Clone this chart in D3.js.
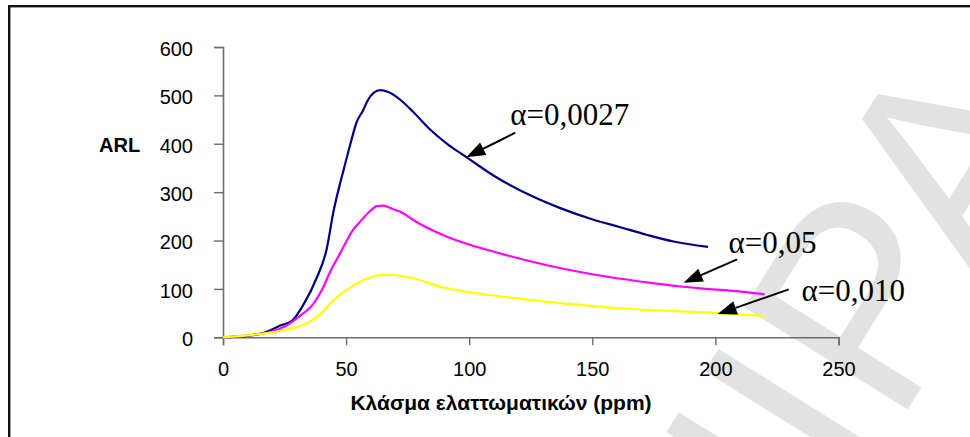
<!DOCTYPE html>
<html>
    <head>
        <meta charset="utf-8">
        <script src="https://d3js.org/d3.v7.min.js"></script>
        <style>
            body { margin: 0; background: #fff; }
            svg { display: block; }
        </style>
    </head>
    <body>
        <div id="chart"></div>
        <script>
            // ARL ανά κλάσμα ελαττωματικών, τιμές διαβασμένες από το γράφημα
            var a0027 = [[0,0],[10,3],[15,7],[19,14],[23,24],[28,34],[32.6,67],[38,122],[42,180],[45,263],[47.3,313],[49,346],
                         [51.6,397],[54.3,445],[57,470],[58.7,489],[61.4,506],[63.8,511],[67.2,507],[72,491],[77.4,465],[84,430],
                         [91,400],[99,372],[110,334],[125,293],[137,267],[150.5,243],[161,228],[172,212],[183,198],[197,187]];
            var a005 = [[0,0],[12,5],[20,12],[26,25],[31,43],[36.7,69],[40,96],[43.5,135],[47.6,174],[50,197],[52.3,218],
                        [55.7,239],[59.8,261],[62.5,271],[65,272],[69,265],[73,257],[77.4,242],[91,208],[103,187],[118,166],
                        [131.6,149],[145,135],[160,122],[173,113],[186,105],[194,101],[202,98],[207,96],[220,89]];
            var a0010 = [[0,0],[12,5],[22,12],[30,21],[35.4,32],[40,50],[44.8,76],[50.3,98],[55.7,115],[60.4,125],[65,129],
                         [69,129],[72,127],[77.4,122],[88,105],[104.5,90],[125,77],[145,67],[161,60],[179,55],[194,52],[201,50],[220,44]];

            var seriesColors = ["#000080", "#ff00ff", "#ffff00"];
            var xTicks = [0, 50, 100, 150, 200, 250];
            var yTicks = [0, 100, 200, 300, 400, 500, 600];

            // ετικέτες με βέλη: θέση κειμένου, ουρά και μύτη βέλους (σε μονάδες δεδομένων)
            var labels = ["α=0,0027", "α=0,05", "α=0,010"];
            var labelPos = [[116.7, 438], [205.3, 174], [235, 75]];
            var arrowTail = [[118.7, 423], [208.8, 161], [229.8, 99]];
            var arrowTip = [[98.8, 372], [187.1, 113], [200.9, 48]];

            var width = 970, height = 437;

            var svg = d3.select("#chart").append("svg")
                .attr("width", width)
                .attr("height", height);

            // υδατογράφημα
            svg.append("text")
                .attr("transform", "translate(640,838) rotate(-58)")
                .attr("font-family", "Liberation Sans, Arial, sans-serif")
                .attr("font-size", 280)
                .attr("fill", "#e2e2e2")
                .text("UNIPA");

            // πλαίσιο γραφήματος
            svg.append("rect")
                .attr("x", 9.2).attr("y", 6.2)
                .attr("width", 1000).attr("height", 500)
                .attr("fill", "none")
                .attr("stroke", "#111")
                .attr("stroke-width", 2.4);

            var x = d3.scaleLinear().domain([0, 250]).range([223, 838.5]);
            var y = d3.scaleLinear().domain([0, 600]).range([337.3, 47]);

            var xAxis = svg.append("g")
                .attr("transform", "translate(0," + y(0) + ")")
                .call(d3.axisBottom(x).tickValues(xTicks).tickSize(8).tickPadding(17).tickFormat(d3.format("d")));
            var yAxis = svg.append("g")
                .attr("transform", "translate(" + x(0) + ",0)")
                .call(d3.axisLeft(y).tickValues(yTicks).tickSize(9).tickPadding(21).tickFormat(d3.format("d")));

            svg.selectAll(".domain").attr("stroke", "#6e6e6e").attr("stroke-width", 1.6);
            svg.selectAll(".tick line").attr("stroke", "#6e6e6e").attr("stroke-width", 1.4);
            svg.selectAll(".tick text")
                .attr("font-family", "Liberation Sans, Arial, sans-serif")
                .attr("font-size", 20)
                .attr("fill", "#000");
            yAxis.selectAll(".tick text").attr("dy", "0.42em");

            // τίτλοι αξόνων
            svg.append("text")
                .attr("x", 501).attr("y", 410)
                .attr("text-anchor", "middle")
                .attr("font-family", "Liberation Sans, Arial, sans-serif")
                .attr("font-size", 21)
                .attr("font-weight", "bold")
                .text("Κλάσμα ελαττωματικών (ppm)");
            svg.append("text")
                .attr("x", 99).attr("y", 152)
                .attr("font-family", "Liberation Sans, Arial, sans-serif")
                .attr("font-size", 20)
                .attr("font-weight", "bold")
                .text("ARL");

            var line = d3.line()
                .x(function(d) { return x(d[0]); })
                .y(function(d) { return y(d[1]); })
                .curve(d3.curveMonotoneX);

            [a0027, a005, a0010].forEach(function(s, i) {
                svg.append("path")
                    .datum(s)
                    .attr("fill", "none")
                    .attr("stroke", seriesColors[i])
                    .attr("stroke-width", 2.2)
                    .attr("d", line);
            });

            // βέλη και ετικέτες
            labels.forEach(function(t, i) {
                var x1 = x(arrowTail[i][0]), y1 = y(arrowTail[i][1]);
                var x2 = x(arrowTip[i][0]), y2 = y(arrowTip[i][1]);
                var ang = Math.atan2(y2 - y1, x2 - x1);
                var len = 19, half = 7;
                var bx = x2 - len * Math.cos(ang), by = y2 - len * Math.sin(ang);
                svg.append("line")
                    .attr("x1", x1).attr("y1", y1)
                    .attr("x2", bx).attr("y2", by)
                    .attr("stroke", "#000")
                    .attr("stroke-width", 2);
                svg.append("polygon")
                    .attr("points", [
                        [x2, y2],
                        [bx + half * Math.sin(ang), by - half * Math.cos(ang)],
                        [bx - half * Math.sin(ang), by + half * Math.cos(ang)]
                    ].map(function(p) { return p.join(","); }).join(" "))
                    .attr("fill", "#000");
                svg.append("text")
                    .attr("x", x(labelPos[i][0])).attr("y", y(labelPos[i][1]))
                    .attr("font-family", "Liberation Serif, Times New Roman, serif")
                    .attr("font-size", 31)
                    .text(t);
            });
        </script>
    </body>
</html>
